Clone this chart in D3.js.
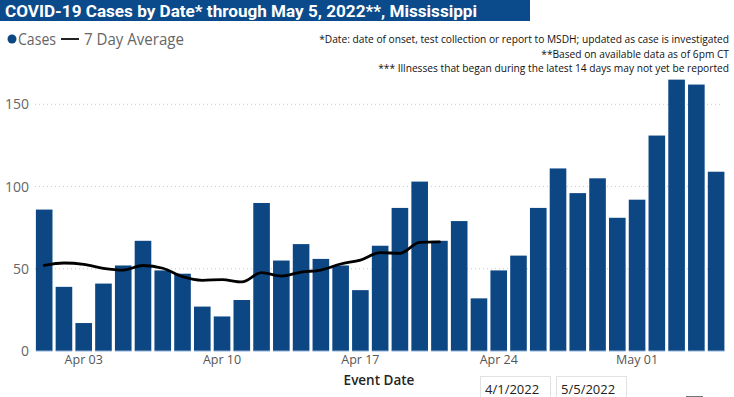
<!DOCTYPE html>
<html>
<head>
<meta charset="utf-8">
<script src="https://cdn.jsdelivr.net/npm/d3@7"></script>
<style>
  body { margin: 0; background: #fff; }
  svg { display: block; font-family: "Open Sans", "Noto Sans", sans-serif; }
</style>
</head>
<body>
<div id="chart"></div>
<script>
var svgWidth = 734;
var svgHeight = 397;

// data
var dates = [
  "Apr 01", "Apr 02", "Apr 03", "Apr 04", "Apr 05", "Apr 06", "Apr 07",
  "Apr 08", "Apr 09", "Apr 10", "Apr 11", "Apr 12", "Apr 13", "Apr 14",
  "Apr 15", "Apr 16", "Apr 17", "Apr 18", "Apr 19", "Apr 20", "Apr 21",
  "Apr 22", "Apr 23", "Apr 24", "Apr 25", "Apr 26", "Apr 27", "Apr 28",
  "Apr 29", "Apr 30", "May 01", "May 02", "May 03", "May 04", "May 05"
];
var cases = [
  86, 39, 17, 41, 52, 67, 49, 47, 27, 21, 31, 90, 55, 65,
  56, 52, 37, 64, 87, 103, 67, 79, 32, 49, 58, 87, 111, 96,
  105, 81, 92, 131, 165, 162, 109
];
var avg7 = [
  52, 53.5, 52.7, 50.3, 49.2, 52, 50.3, 45.2, 43, 43.4, 42,
  47.6, 45.6, 48, 49.2, 52.9, 55.3, 59.8, 59.4, 66, 66.3
];
var xTicks = ["Apr 03", "Apr 10", "Apr 17", "Apr 24", "May 01"];
var yTicks = [0, 50, 100, 150];
var notes = [
  "*Date: date of onset, test collection or report to MSDH; updated as case is investigated",
  "**Based on available data as of 6pm CT",
  "*** Illnesses that began during the latest 14 days may not yet be reported"
];

var barColor = "#0c4784";

var svg = d3.select("#chart")
  .append("svg")
  .attr("width", svgWidth)
  .attr("height", svgHeight);

// title bar
svg.append("rect")
  .attr("x", 0).attr("y", 0)
  .attr("width", 530).attr("height", 21)
  .attr("fill", "#0b4a8b");

svg.append("text")
  .attr("x", 5).attr("y", 17)
  .attr("fill", "#fff")
  .attr("font-size", 17)
  .attr("font-weight", 700)
  .attr("font-family", "Roboto, sans-serif")
  .attr("textLength", 472)
  .attr("lengthAdjust", "spacingAndGlyphs")
  .text("COVID-19 Cases by Date* through May 5, 2022**, Mississippi");

// legend
var legend = svg.append("g");
legend.append("circle")
  .attr("cx", 12).attr("cy", 39).attr("r", 4.5)
  .attr("fill", barColor);
legend.append("text")
  .attr("x", 18).attr("y", 45)
  .attr("font-size", 15.5)
  .attr("fill", "#666")
  .attr("textLength", 38)
  .attr("lengthAdjust", "spacingAndGlyphs")
  .text("Cases");
legend.append("line")
  .attr("x1", 61).attr("x2", 79)
  .attr("y1", 39).attr("y2", 39)
  .attr("stroke", "#222").attr("stroke-width", 2);
legend.append("text")
  .attr("x", 84).attr("y", 45)
  .attr("font-size", 15.5)
  .attr("fill", "#666")
  .attr("textLength", 100)
  .attr("lengthAdjust", "spacingAndGlyphs")
  .text("7 Day Average");

// notes top right
svg.append("g").selectAll("text")
  .data(notes)
  .enter()
  .append("text")
  .attr("x", 729)
  .attr("y", (d, i) => 43 + i * 14.5)
  .attr("text-anchor", "end")
  .attr("font-size", 10.2)
  .attr("fill", "#111")
  .text(d => d);

// scales
var xScale = d3.scaleBand()
  .domain(dates)
  .range([34.3, 726])
  .paddingInner(0.16)
  .paddingOuter(0.08);

var yScale = d3.scaleLinear()
  .domain([0, 150])
  .range([351, 104.3]);

// grid
svg.append("g").selectAll("line")
  .data(yTicks.filter(d => d > 0))
  .enter()
  .append("line")
  .attr("x1", 35).attr("x2", 722)
  .attr("y1", d => yScale(d)).attr("y2", d => yScale(d))
  .attr("stroke", "#c8c8c8")
  .attr("stroke-width", 1)
  .attr("stroke-dasharray", "1,3");

// y axis labels
var leftAxis = d3.axisLeft(yScale).tickValues(yTicks).tickSize(0).tickPadding(0);
var yAxisG = svg.append("g")
  .attr("transform", "translate(29,0)")
  .call(leftAxis);
yAxisG.select(".domain").remove();
yAxisG.selectAll("text")
  .attr("font-size", 14)
  .attr("font-family", "'Open Sans', sans-serif")
  .attr("fill", "#666");

// bars
svg.append("g").selectAll("rect")
  .data(cases)
  .enter()
  .append("rect")
  .attr("x", (d, i) => xScale(dates[i]))
  .attr("y", d => yScale(d))
  .attr("width", xScale.bandwidth())
  .attr("height", d => yScale(0) - yScale(d))
  .attr("fill", barColor);

// baseline tint under bars
svg.append("g").selectAll("rect")
  .data(cases)
  .enter()
  .append("rect")
  .attr("x", (d, i) => xScale(dates[i]))
  .attr("y", yScale(0) - 0.5)
  .attr("width", xScale.bandwidth())
  .attr("height", 1)
  .attr("fill", "#8fb2d6");

// 7 day average
var line = d3.line()
  .x((d, i) => xScale(dates[i]) + xScale.bandwidth() / 2)
  .y(d => yScale(d))
  .curve(d3.curveMonotoneX);

svg.append("path")
  .datum(avg7)
  .attr("d", line)
  .attr("fill", "none")
  .attr("stroke", "#000")
  .attr("stroke-width", 2.8)
  .attr("stroke-linejoin", "round")
  .attr("stroke-linecap", "round");

// x axis
var bottomAxis = d3.axisBottom(xScale).tickValues(xTicks).tickSize(0).tickPadding(4);
var xAxisG = svg.append("g")
  .attr("transform", "translate(0,351)")
  .call(bottomAxis);
xAxisG.select(".domain").remove();
xAxisG.selectAll("text")
  .attr("font-size", 12.5)
  .attr("font-family", "'Open Sans', sans-serif")
  .attr("fill", "#555");

svg.append("text")
  .attr("x", 379).attr("y", 385)
  .attr("text-anchor", "middle")
  .attr("font-size", 13.5)
  .attr("font-weight", 600)
  .attr("fill", "#252423")
  .text("Event Date");

// date range boxes
var boxes = [["4/1/2022", 480, 70], ["5/5/2022", 556, 70]];
boxes.forEach(b => {
  svg.append("rect")
    .attr("x", b[1] + 0.5).attr("y", 376.5)
    .attr("width", b[2]).attr("height", 25)
    .attr("fill", "#fff")
    .attr("stroke", "#e2e2e2");
  svg.append("text")
    .attr("x", b[1] + 5).attr("y", 394)
    .attr("font-size", 13)
    .attr("fill", "#222")
    .text(b[0]);
});

svg.append("line")
  .attr("x1", 686).attr("x2", 703)
  .attr("y1", 396.5).attr("y2", 396.5)
  .attr("stroke", "#777").attr("stroke-width", 1);
</script>
</body>
</html>
